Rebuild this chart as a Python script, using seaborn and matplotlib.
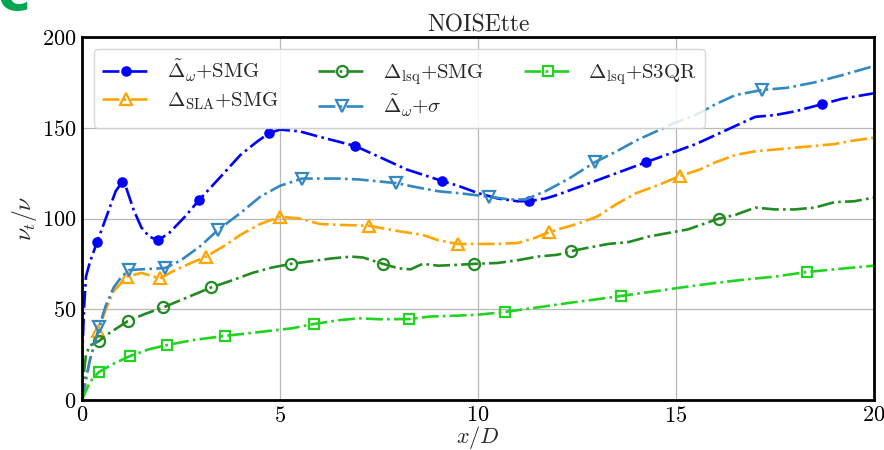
import numpy as np
import pandas as pd
import seaborn as sns
import matplotlib
matplotlib.use("Agg")
import matplotlib.pyplot as plt
from matplotlib.ticker import MultipleLocator

# ---------------- data ----------------
blue_x = [0, 0.05, 0.1, 0.2, 0.38, 0.6, 0.85, 1.01, 1.1, 1.3, 1.5, 1.7, 1.92, 2.2, 2.6, 2.95,
          3.5, 4.0, 4.4, 4.72, 5.0, 5.5, 6.0, 6.89, 7.5, 8.2, 9.09, 9.5, 10.0, 10.5, 11.0, 11.29,
          11.7, 12.0, 12.5, 13.0, 13.5, 14.24, 15.0, 15.5, 16.0, 16.5, 17.0, 17.5, 18.0, 18.69,
          19.2, 20.0]
blue_y = [20, 50, 68, 76, 87, 100, 115, 120, 118, 105, 95, 90, 88, 92, 101, 110,
          123, 135, 142, 147, 149, 148, 145, 140, 134, 127, 120.7, 118, 114, 111, 109.5, 109.6,
          111, 113, 117, 121, 125, 131, 137, 141, 146, 151, 156, 157, 159, 163,
          166, 169]
blue_mx = [0.38, 1.01, 1.92, 2.95, 4.72, 6.89, 9.09, 11.29, 14.24, 18.69]

orange_x = [0, 0.1, 0.2, 0.41, 0.6, 0.8, 1.14, 1.5, 1.97, 2.3, 2.7, 3.13, 3.6, 4.0, 4.5, 5.0,
            5.5, 6.0, 6.5, 7.25, 8.0, 8.6, 9.0, 9.49, 10.0, 10.5, 11.0, 11.4, 11.8, 12.5, 13.0,
            13.5, 14.0, 14.5, 15.1, 15.6, 16.0, 16.5, 17.0, 17.5, 18.0, 18.5, 19.0, 19.5, 20.0]
orange_y = [0, 10, 22, 38, 50, 60, 68, 70, 67, 71, 75, 79, 85, 91, 97, 101,
            100, 97, 96.5, 96, 93, 91, 88, 86, 86, 86, 86.5, 89, 92.6, 97, 101,
            108, 114, 118, 123.4, 127, 131, 135, 137, 138, 139, 140, 141, 143, 144.5]
orange_mx = [0.41, 1.14, 1.97, 3.13, 5.0, 7.25, 9.49, 11.8, 15.1]

dkgreen_x = [0, 0.05, 0.1, 0.2, 0.43, 0.7, 1.16, 1.6, 2.05, 2.6, 3.26, 3.8, 4.3, 4.8, 5.28,
             5.8, 6.3, 6.8, 7.1, 7.6, 8.0, 8.3, 8.6, 9.0, 9.5, 9.9, 10.5, 11.0, 11.5, 12.0,
             12.35, 12.8, 13.3, 13.8, 14.3, 14.8, 15.3, 16.09, 16.5, 17.0, 17.5, 18.0, 18.5,
             19.0, 19.5, 20.0]
dkgreen_y = [0, 15, 25, 30, 32.5, 37, 43.5, 47.5, 51, 56, 62, 66, 70, 73, 75,
             76.5, 78, 79, 78.5, 75, 72.5, 72, 75, 74, 74.5, 75, 75.5, 77, 79, 80,
             82, 84, 86, 87, 90, 92, 94, 100, 102, 106, 105, 105, 106,
             109, 109.5, 111.5]
dkgreen_mx = [0.43, 1.16, 2.05, 3.26, 5.28, 7.6, 9.9, 12.35, 16.09]

steel_x = [0, 0.1, 0.2, 0.43, 0.6, 0.8, 1.0, 1.19, 1.5, 2.1, 2.5, 3.0, 3.43, 4.0, 4.5, 5.0,
           5.56, 6.5, 7.0, 7.93, 8.5, 9.0, 9.5, 10.28, 10.8, 11.2, 11.7, 12.3, 12.95, 13.5,
           14.0, 14.5, 15.0, 15.5, 16.0, 16.5, 17.17, 17.8, 18.5, 19.2, 20.0]
steel_y = [0, 12, 22, 40, 52, 62, 68, 71.6, 72, 72.7, 77, 85, 93.6, 103, 112, 118,
           122, 122, 121.5, 119.5, 117, 115, 114, 112, 110.5, 110.5, 115, 122, 131, 137,
           143, 148, 153, 157, 163, 168, 170.8, 172, 175, 179, 184]
steel_mx = [0.43, 1.19, 2.1, 3.43, 5.56, 7.93, 10.28, 12.95, 17.17]

lime_x = [0, 0.1, 0.2, 0.43, 0.8, 1.21, 1.7, 2.15, 2.8, 3.6, 4.5, 5.3, 5.86, 6.5, 7.0, 7.5,
          8.26, 8.8, 9.5, 10.0, 10.68, 11.5, 12.3, 13.0, 13.6, 14.5, 15.3, 16.0, 16.8, 17.5,
          18.3, 19.0, 20.0]
lime_y = [0, 5, 10, 15.5, 20, 24.2, 28, 30.3, 33, 35.3, 37.5, 39.5, 41.9, 44, 45, 44.5,
          44.6, 46, 46.5, 47, 48.5, 51, 53.5, 55.5, 57.3, 60, 62.5, 64.5, 66.5, 68,
          70.5, 72, 74]
lime_mx = [0.43, 1.21, 2.15, 3.6, 5.86, 8.26, 10.68, 13.6, 18.3]

labels = [r'$\tilde{\Delta}_{\omega}$+SMG', r'$\Delta_{\mathrm{SLA}}$+SMG',
          r'$\Delta_{\mathrm{lsq}}$+SMG', r'$\tilde{\Delta}_{\omega}$+$\sigma$',
          r'$\Delta_{\mathrm{lsq}}$+S3QR']

# ---------------- style ----------------
sns.set_theme(style="white")
plt.rcParams['font.family'] = ['serif']
plt.rcParams['font.serif'] = ['cmr10', 'DejaVu Serif']
plt.rcParams['mathtext.fontset'] = 'cm'
plt.rcParams['axes.formatter.use_mathtext'] = True
plt.rcParams['axes.unicode_minus'] = False

fig = plt.figure(figsize=(8.84, 4.5), dpi=100)
ax = fig.add_axes([82/884, 1-400/450, (874-82)/884, (400-37)/450])

series = [
    (blue_x, blue_y, blue_mx, '#0000ff', 'o', 'full', 6.0),
    (orange_x, orange_y, orange_mx, '#ffa500', '^', 'none', 8.5),
    (dkgreen_x, dkgreen_y, dkgreen_mx, '#228b22', 'o', 'none', 8.0),
    (steel_x, steel_y, steel_mx, '#3388c2', 'v', 'none', 8.5),
    (lime_x, lime_y, lime_mx, '#22d322', 's', 'none', 7.5),
]

for (xs, ys, mx, col, mk, fs, ms), lab in zip(series, labels):
    df = pd.DataFrame({'x': xs, 'y': ys})
    idx = [i for i, v in enumerate(xs) if v in mx]
    sns.lineplot(data=df, x='x', y='y', ax=ax, color=col, linestyle='-.', lw=1.9,
                 marker=mk, markevery=idx, markersize=ms, fillstyle=fs,
                 markeredgecolor=col, markeredgewidth=1.6,
                 markerfacecolor=(col if fs == 'full' else 'none'),
                 sort=False, estimator=None, label=lab, legend=False)

ax.set_xlim(0, 20)
ax.set_ylim(0, 200)
ax.xaxis.set_major_locator(MultipleLocator(5))
ax.xaxis.set_minor_locator(MultipleLocator(1))
ax.yaxis.set_major_locator(MultipleLocator(50))
ax.yaxis.set_minor_locator(MultipleLocator(10))
ax.tick_params(which='both', direction='in', top=False, right=False, colors='black',
               labelsize=16, width=1.8)
ax.tick_params(which='major', length=9, pad=4)
ax.tick_params(which='minor', length=5)
ax.grid(True, which='major', color='#b8b8b8', lw=0.9)
for s in ax.spines.values():
    s.set_color('black')
    s.set_linewidth(2.0)

ax.set_xlabel(r'$x/D$', fontsize=16, labelpad=-1)
ax.set_ylabel(r'$\nu_t/\nu$', fontsize=17, labelpad=2)
ax.set_title('NOISEtte', fontsize=17, pad=4)

handles, labs = ax.get_legend_handles_labels()
leg = ax.legend(handles, labs, ncol=3, loc='upper left', fontsize=15,
                frameon=True, fancybox=True, framealpha=0.85, edgecolor='#d0d0d0',
                handlelength=2.3, columnspacing=1.9, borderpad=0.4, labelspacing=0.3,
                bbox_to_anchor=(0.002, 0.995))

fig.text(-0.003, 1.012, 'c', color='#00a651', fontsize=40, fontweight='bold',
         family='DejaVu Sans', ha='left', va='center')

fig.savefig('out.png', dpi=100)
